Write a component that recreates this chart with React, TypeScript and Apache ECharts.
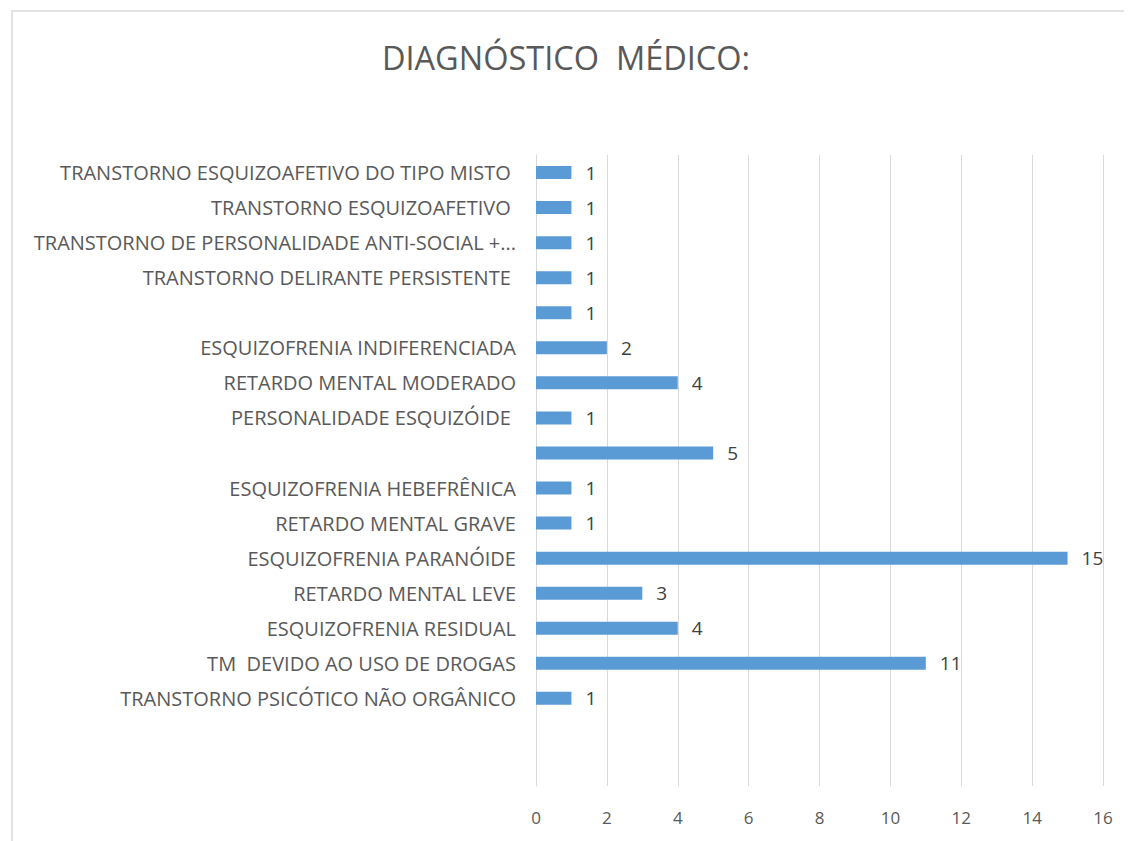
import React, { useEffect, useRef } from "react";
import * as echarts from "echarts";

const titleText = "DIAGNÓSTICO  MÉDICO:";

// bottom to top
const categories = [
  "",
  "",
  "TRANSTORNO PSICÓTICO NÃO ORGÂNICO",
  "TM  DEVIDO AO USO DE DROGAS",
  "ESQUIZOFRENIA RESIDUAL",
  "RETARDO MENTAL LEVE",
  "ESQUIZOFRENIA PARANÓIDE",
  "RETARDO MENTAL GRAVE",
  "ESQUIZOFRENIA HEBEFRÊNICA",
  "",
  "PERSONALIDADE ESQUIZÓIDE ",
  "RETARDO MENTAL MODERADO",
  "ESQUIZOFRENIA INDIFERENCIADA",
  " ",
  "TRANSTORNO DELIRANTE PERSISTENTE ",
  "TRANSTORNO DE PERSONALIDADE ANTI-SOCIAL +...",
  "TRANSTORNO ESQUIZOAFETIVO ",
  "TRANSTORNO ESQUIZOAFETIVO DO TIPO MISTO ",
];

const values: (number | null)[] = [
  null, null, 1, 11, 4, 3, 15, 1, 1, 5, 1, 4, 2, 1, 1, 1, 1, 1,
];

const xTicks = { min: 0, max: 16, interval: 2 };

export default function App() {
  const ref = useRef<HTMLDivElement>(null);
  useEffect(() => {
    if (!ref.current) return;
    const chart = echarts.init(ref.current, undefined, { renderer: "svg" });
    chart.setOption({
      animation: false,
      backgroundColor: "#ffffff",
      graphic: [
        {
          type: "rect",
          shape: { x: 12, y: 11, width: 1200, height: 900 },
          style: { fill: "none", stroke: "#d9d9d9", lineWidth: 1.5 },
          silent: true,
        },
      ],
      title: {
        text: titleText,
        left: "center",
        top: 36,
        textStyle: {
          fontFamily: "Open Sans, sans-serif",
          fontWeight: "normal",
          fontSize: 32.5,
          color: "#595959",
        },
      },
      grid: { left: 536, right: 29, top: 155, height: 631, containLabel: false },
      xAxis: {
        type: "value",
        min: xTicks.min,
        max: xTicks.max,
        interval: xTicks.interval,
        axisLine: { show: false },
        axisTick: { show: false },
        axisLabel: {
          margin: 23,
          fontFamily: "Open Sans, sans-serif",
          fontSize: 17,
          color: "#595959",
        },
        splitLine: { show: true, lineStyle: { color: "#d9d9d9", width: 1 } },
      },
      yAxis: {
        type: "category",
        data: categories,
        axisLine: { show: true, lineStyle: { color: "#d9d9d9", width: 1 } },
        axisTick: { show: false },
        axisLabel: {
          margin: 20,
          fontFamily: "Open Sans, sans-serif",
          fontSize: 20,
          color: "#595959",
          interval: 0,
        },
      },
      series: [
        {
          type: "bar",
          data: values,
          barWidth: 13,
          itemStyle: { color: "#5b9bd5" },
          label: {
            show: true,
            position: "right",
            distance: 14,
            fontFamily: "Open Sans, sans-serif",
            fontSize: 19,
            color: "#404040",
          },
        },
      ],
    });
    return () => chart.dispose();
  }, []);
  return <div ref={ref} style={{ width: 1132, height: 841, marginLeft: -8, marginTop: -8 }} />;
}
